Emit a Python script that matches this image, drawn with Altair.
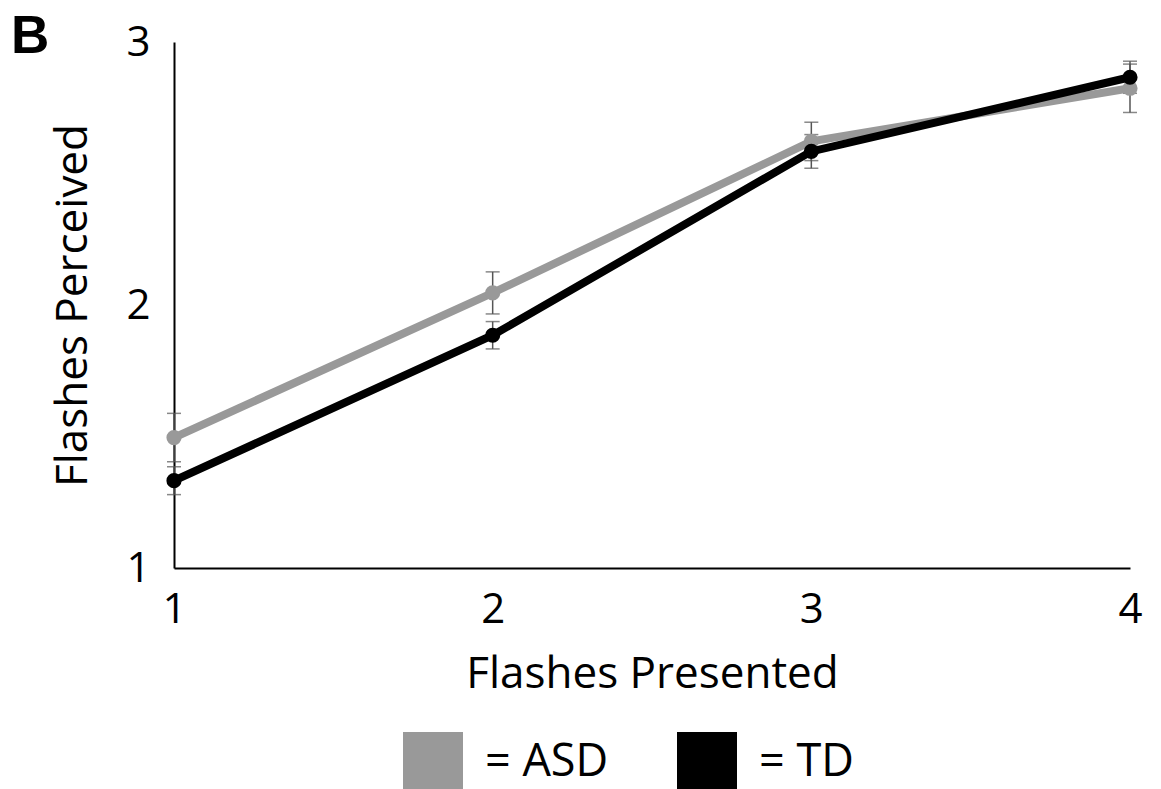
import altair as alt
import pandas as pd

flashes_presented = [1, 2, 3, 4]
asd_mean = [1.496, 2.046, 2.622, 2.824]
asd_se = [0.092, 0.080, 0.073, 0.092]
td_mean = [1.332, 1.885, 2.584, 2.866]
td_se = [0.053, 0.052, 0.064, 0.061]
groups = ["ASD", "TD"]
group_colors = ["#999999", "#000000"]
y_tick_values = [1, 2, 3]
x_tick_values = [1, 2, 3, 4]

rows = []
for g, c, means, ses in [("ASD", group_colors[0], asd_mean, asd_se),
                         ("TD", group_colors[1], td_mean, td_se)]:
    for x, m, s in zip(flashes_presented, means, ses):
        rows.append({"presented": x, "perceived": m, "lo": m - s, "hi": m + s,
                     "group": g, "line_color": c})
df = pd.DataFrame(rows)

FONT = "Open Sans"

x_axis = alt.Axis(values=x_tick_values, format="d", title="Flashes Presented",
                  grid=False, ticks=False, domainColor="#000000", domainWidth=2,
                  labelFlush=False, labelOverlap=False,
                  labelFont=FONT, labelFontSize=42, labelColor="#000000",
                  labelPadding=21, titleFont=FONT, titleFontSize=44,
                  titleFontWeight="normal", titleColor="#000000", titlePadding=22)
y_axis = alt.Axis(values=y_tick_values, tickCount=3, format=".0f", title="Flashes Perceived",
                  grid=False, ticks=False, domainColor="#000000", domainWidth=2,
                  labelFlush=False, labelOverlap=False,
                  labelFont=FONT, labelFontSize=42, labelColor="#000000",
                  labelPadding=24, titleFont=FONT, titleFontSize=44,
                  titleFontWeight="normal", titleColor="#000000", titlePadding=30)
x_scale = alt.Scale(domain=[1, 4], nice=False, zero=False)
y_scale = alt.Scale(domain=[1, 3], nice=False, zero=False)

X = alt.X("presented:Q", scale=x_scale, axis=x_axis)

base = alt.Chart(df)

lines = base.mark_line(strokeWidth=8).encode(
    x=X,
    y=alt.Y("perceived:Q", scale=y_scale, axis=y_axis),
    color=alt.Color("line_color:N", scale=None),
    detail="group:N",
)

points = base.mark_point(filled=True, size=230, opacity=1).encode(
    x=X,
    y=alt.Y("perceived:Q", scale=y_scale, axis=y_axis),
    fill=alt.Fill("group:N", scale=alt.Scale(domain=groups, range=group_colors),
                  legend=alt.Legend(orient="none", legendX=229, legendY=690,
                                    direction="horizontal", title=None,
                                    symbolType="square", symbolSize=3600,
                                    symbolStrokeWidth=0, symbolOpacity=1,
                                    labelExpr="'= ' + datum.label",
                                    labelFont=FONT, labelFontSize=45, labelColor="#000000",
                                    labelOffset=22, columnPadding=68, padding=0)),
)

err_rule = base.mark_rule(color="#555555", strokeWidth=1.5).encode(
    x=X, y=alt.Y("lo:Q", scale=y_scale, axis=y_axis), y2="hi:Q")
err_cap_hi = base.mark_tick(color="#555555", thickness=1.5, size=14, orient="horizontal").encode(
    x=X, y=alt.Y("hi:Q", scale=y_scale, axis=y_axis))
err_cap_lo = base.mark_tick(color="#555555", thickness=1.5, size=14, orient="horizontal").encode(
    x=X, y=alt.Y("lo:Q", scale=y_scale, axis=y_axis))

panel = alt.Chart(pd.DataFrame({"t": ["B"]})).mark_text(
    font="Liberation Sans", fontWeight="bold", fontSize=53, align="left", baseline="alphabetic",
    color="#000000").encode(text="t:N", x=alt.value(-163), y=alt.value(11))

chart = alt.layer(err_rule, err_cap_hi, err_cap_lo, lines, points, panel).properties(
    width=956, height=526,
    autosize=alt.AutoSizeParams(type="none"),
    padding={"left": 174, "top": 42, "right": 31, "bottom": 221},
    background="#ffffff",
).configure_view(stroke=None)

chart.save("out.html", embed_options={"renderer": "svg", "actions": False})
